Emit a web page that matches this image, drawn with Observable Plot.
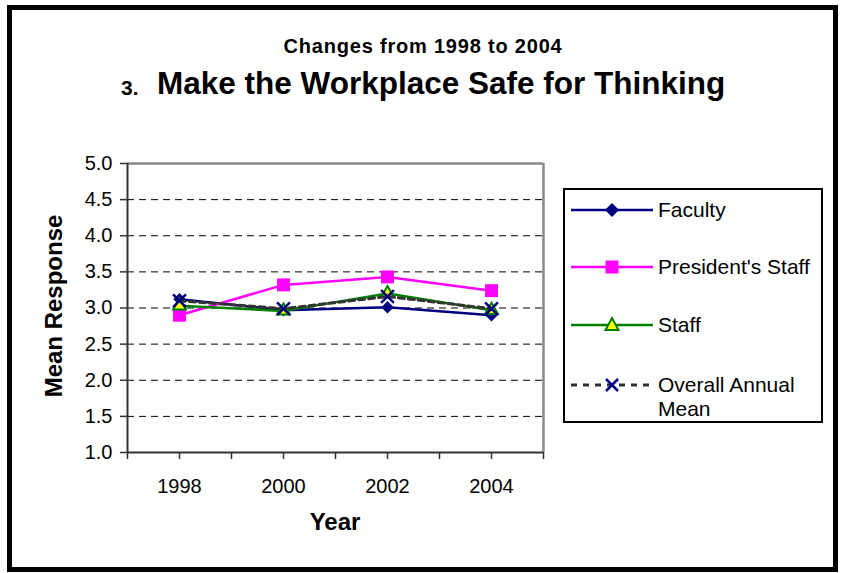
<!DOCTYPE html>
<html>
<head>
<meta charset="utf-8">
<script src="https://cdn.jsdelivr.net/npm/d3@7"></script>
<script src="https://cdn.jsdelivr.net/npm/@observablehq/plot@0.6"></script>
<style>
  html, body { margin: 0; padding: 0; background: #fff; }
  #page { position: relative; width: 842px; height: 573px; overflow: hidden; font-family: Arial, "Liberation Sans", sans-serif; color: #000; }
  #frame { position: absolute; left: 7px; top: 5px; width: 831px; height: 567px; box-sizing: border-box; border: 5px solid #000; pointer-events: none; }
  #chart { position: absolute; left: 0; top: 0; }
  .t { position: absolute; line-height: 1; white-space: nowrap; font-weight: bold; }
  #legend { position: absolute; left: 563px; top: 188px; width: 260px; height: 235px; box-sizing: border-box; border: 2px solid #000; background: #fff; }
  .lg { position: absolute; font-size: 21px; line-height: 1; white-space: nowrap; }
</style>
</head>
<body>
<div id="page">
  <div id="chart"></div>
  <div class="t" id="sub" style="font-size:20px;letter-spacing:0.8px;left:0;width:846px;text-align:center;top:36px;">Changes from 1998 to 2004</div>
  <div class="t" style="font-size:21px;left:121px;top:77px;">3.</div>
  <div class="t" style="font-size:31.5px;left:157px;top:68px;">Make the Workplace Safe for Thinking</div>
  <div class="t" style="font-size:24px;left:295px;width:80px;text-align:center;top:510px;">Year</div>
  <div class="t" style="font-size:24px;left:-46px;width:200px;text-align:center;top:294px;transform:rotate(-90deg);">Mean Response</div>
  <div id="legend"></div>
  <div id="frame"></div>
</div>
<script>
// ---- data ----
const years = [1998, 2000, 2002, 2004];
const faculty = [3.12, 2.97, 3.01, 2.90];
const presidentsStaff = [2.90, 3.32, 3.43, 3.24];
const staff = [3.03, 2.96, 3.20, 2.97];
const overallMean = [3.10, 2.99, 3.16, 2.99];
const seriesNames = ["Faculty", "President's Staff", "Staff", "Overall Annual Mean"];
const xTicks = [1997, 1998, 1999, 2000, 2001, 2002, 2003, 2004, 2005];
const xTickLabels = [1998, 2000, 2002, 2004];
const yTicks = [1.0, 1.5, 2.0, 2.5, 3.0, 3.5, 4.0, 4.5, 5.0];
const gridLines = [1.5, 2.0, 2.5, 3.0, 3.5, 4.0, 4.5];

const toRows = (vals) => years.map((y, i) => ({year: y, value: vals[i]}));
const facRows = toRows(faculty);
const psRows = toRows(presidentsStaff);
const stRows = toRows(staff);
const ovRows = toRows(overallMean);

const navy = "#000080", magenta = "#FF00FF", green = "#008000", yellow = "#FFFF00";

const chart = Plot.plot({
  width: 842,
  height: 573,
  marginLeft: 127,
  marginRight: 299,
  marginTop: 163,
  marginBottom: 121,
  style: {fontFamily: "Arial, 'Liberation Sans', sans-serif", fontSize: "20px", color: "#000", background: "transparent", overflow: "visible"},
  x: {domain: [xTicks[0], xTicks[xTicks.length - 1]], label: null},
  y: {domain: [yTicks[0], yTicks[yTicks.length - 1]], label: null},
  marks: [
    Plot.ruleY(gridLines, {stroke: "#000", strokeWidth: 1, strokeDasharray: "7,5"}),
    Plot.ruleY([yTicks[yTicks.length - 1]], {stroke: "#888", strokeWidth: 2.5}),
    Plot.ruleX([xTicks[xTicks.length - 1]], {stroke: "#888", strokeWidth: 2.5}),
    Plot.ruleX([xTicks[0]], {stroke: "#333", strokeWidth: 2}),
    Plot.ruleY([yTicks[0]], {stroke: "#333", strokeWidth: 2}),
    Plot.axisX({ticks: xTicks, tickFormat: d => xTickLabels.includes(d) ? String(d) : "", tickSize: 7, tickPadding: 19, stroke: "#333", strokeWidth: 1.5, fill: "#000", label: null}),
    Plot.axisY({ticks: yTicks, tickFormat: d3.format(".1f"), tickSize: 7, tickPadding: 8, stroke: "#333", strokeWidth: 1.5, fill: "#000", label: null}),
    // Faculty
    Plot.line(facRows, {x: "year", y: "value", stroke: navy, strokeWidth: 2.5}),
    Plot.dot(facRows, {x: "year", y: "value", symbol: "diamond2", fill: navy, r: 5.6}),
    // President's Staff
    Plot.line(psRows, {x: "year", y: "value", stroke: magenta, strokeWidth: 2.5}),
    Plot.dot(psRows, {x: "year", y: "value", symbol: "square", fill: magenta, r: 7.3}),
    // Staff
    Plot.line(stRows, {x: "year", y: "value", stroke: green, strokeWidth: 2.5}),
    Plot.dot(stRows, {x: "year", y: "value", symbol: "triangle", fill: yellow, stroke: green, strokeWidth: 2, r: 4.8}),
    // Overall Annual Mean
    Plot.line(ovRows, {x: "year", y: "value", stroke: "#333", strokeWidth: 3, strokeDasharray: "6,4"}),
    Plot.dot(ovRows, {x: "year", y: "value", symbol: "times", stroke: navy, strokeWidth: 2.5, r: 5.9})
  ]
});
document.getElementById("chart").appendChild(chart);

// ---- legend ----
const legendStyles = [
  {line: `stroke="${navy}" stroke-width="2.5"`, marker: `<path d="M0,-7L7,0L0,7L-7,0Z" fill="${navy}"/>`},
  {line: `stroke="${magenta}" stroke-width="2.5"`, marker: `<rect x="-6.5" y="-6.5" width="13" height="13" fill="${magenta}"/>`},
  {line: `stroke="${green}" stroke-width="2.5"`, marker: `<path d="M0,-7L6.5,5L-6.5,5Z" fill="${yellow}" stroke="${green}" stroke-width="2"/>`},
  {line: `stroke="#333" stroke-width="3" stroke-dasharray="6,6"`, marker: `<path d="M-6,-6L6,6M-6,6L6,-6" stroke="${navy}" stroke-width="2.5"/>`}
];
const rowY = [20, 77, 135, 195];
const legend = document.getElementById("legend");
let html = "";
seriesNames.forEach((name, i) => {
  const cy = rowY[i];
  html += `<svg style="position:absolute;left:6px;top:${cy - 10}px;overflow:visible" width="84" height="20">
    <line x1="0" y1="10" x2="82" y2="10" ${legendStyles[i].line}/>
    <g transform="translate(41,10)">${legendStyles[i].marker}</g></svg>`;
  if (i === 3) {
    html += `<div class="lg" style="left:93px;top:${cy - 11}px;">Overall Annual</div>`;
    html += `<div class="lg" style="left:93px;top:${cy + 13}px;">Mean</div>`;
  } else {
    html += `<div class="lg" style="left:93px;top:${cy - 11}px;">${name}</div>`;
  }
});
legend.innerHTML = html;
</script>
</body>
</html>
